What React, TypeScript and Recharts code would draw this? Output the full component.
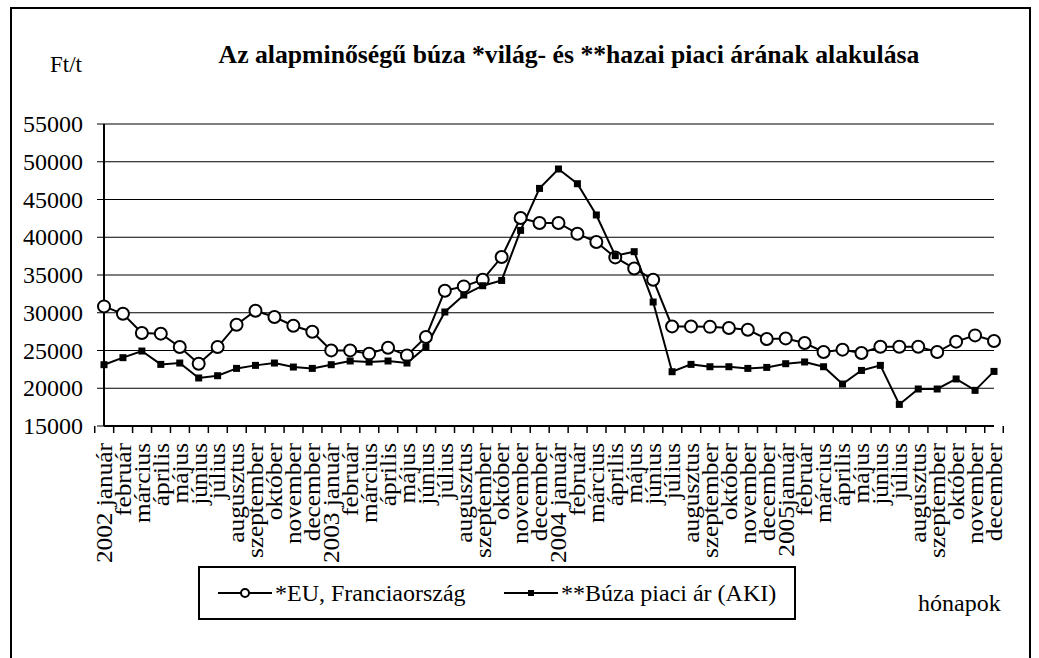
import { LineChart, Line, XAxis, YAxis, CartesianGrid, Legend } from 'recharts';

// hónapok 2002 január – 2005 december
const MONTHS = [
  '2002 január', 'február', 'március', 'április', 'május', 'június',
  'július', 'augusztus', 'szeptember', 'október', 'november', 'december',
  '2003 január', 'február', 'március', 'április', 'május', 'június',
  'július', 'augusztus', 'szeptember', 'október', 'november', 'december',
  '2004 január', 'február', 'március', 'április', 'május', 'június',
  'július', 'augusztus', 'szeptember', 'október', 'november', 'december',
  '2005január', 'február', 'március', 'április', 'május', 'június',
  'július', 'augusztus', 'szeptember', 'október', 'november', 'december',
];

// *EU, Franciaország (Ft/t)
const EU_PRICES = [
  30840, 29870, 27320, 27230, 25460, 23250, 25460, 28420, 30270, 29440, 28280, 27490,
  25010, 25010, 24580, 25370, 24350, 26790, 32920, 33490, 34380, 37380, 42550, 41890,
  41890, 40470, 39370, 37330, 35870, 34380, 28190, 28190, 28130, 27980, 27750, 26520,
  26600, 25990, 24800, 25110, 24670, 25500, 25500, 25500, 24800, 26170, 27000, 26260,
];

// **Búza piaci ár (AKI) (Ft/t)
const AKI_PRICES = [
  23120, 24050, 24930, 23160, 23340, 21360, 21660, 22630, 23030, 23340, 22810, 22630,
  23120, 23610, 23480, 23610, 23340, 25460, 30100, 32350, 33580, 34280, 40910, 46470,
  49040, 47090, 42950, 37560, 38090, 31420, 22190, 23160, 22850, 22850, 22630, 22760,
  23250, 23480, 22850, 20560, 22360, 23030, 17860, 19900, 19900, 21230, 19720, 22230,
];

const Y_TICKS = [15000, 20000, 25000, 30000, 35000, 40000, 45000, 50000, 55000];
const LEGEND_ORDER = ['eu', 'aki'];

const W = 1039;
const H = 658;
const PLOT_LEFT = 104;
const PLOT_RIGHT = 994;
const STEP = (PLOT_RIGHT - PLOT_LEFT) / MONTHS.length;
const FONT = '"Liberation Serif", "Times New Roman", serif';

const data = MONTHS.map((month, i) => ({
  month,
  eu: EU_PRICES[i],
  aki: AKI_PRICES[i],
}));

function MonthTick(props: any) {
  const { x, y, payload, index } = props;
  const left = x - STEP / 2;
  return (
    <g>
      <line x1={left} y1={y} x2={left} y2={y + 7} stroke="#000" strokeWidth={1.5} />
      {index === MONTHS.length - 1 && (
        <line x1={x + STEP / 2} y1={y} x2={x + STEP / 2} y2={y + 7} stroke="#000" strokeWidth={1.5} />
      )}
      <text
        transform={`translate(${x} ${y + 17}) rotate(-90) scale(1.1 1)`}
        textAnchor="end"
        dy="0.34em"
        fontFamily={FONT}
        fontSize={23}
        fill="#000"
      >
        {payload.value}
      </text>
    </g>
  );
}

function PriceTick(props: any) {
  const { x, y, payload } = props;
  return (
    <text x={x} y={y} dy="0.34em" textAnchor="end" fontFamily={FONT} fontSize={24} fill="#000">
      {payload.value}
    </text>
  );
}

function SquareDot(props: any) {
  const { cx, cy, index } = props;
  return <rect key={`sq-${index}`} x={cx - 3.5} y={cy - 3.5} width={7} height={7} fill="#000" />;
}

function LegendIcon({ kind }: { kind: string }) {
  return (
    <svg width={54} height={12} style={{ flex: 'none' }}>
      <line x1={0} y1={6} x2={54} y2={6} stroke="#000" strokeWidth={2} />
      {kind === 'eu' ? (
        <circle cx={27} cy={6} r={4} fill="#fff" stroke="#000" strokeWidth={2} />
      ) : (
        <rect x={24} y={3} width={6} height={6} fill="#000" />
      )}
    </svg>
  );
}

function LegendBox(props: any) {
  const items = [...(props.payload ?? [])].sort(
    (a: any, b: any) => LEGEND_ORDER.indexOf(a.dataKey) - LEGEND_ORDER.indexOf(b.dataKey),
  );
  const offsets = [18, 304];
  return (
    <div
      style={{
        position: 'relative',
        width: 598,
        height: 54,
        boxSizing: 'border-box',
        border: '2px solid #000',
        background: '#fff',
        fontFamily: FONT,
        fontSize: 24,
        color: '#000',
      }}
    >
      {items.map((item: any, i: number) => (
        <div
          key={item.value}
          style={{
            position: 'absolute',
            left: offsets[i],
            top: 0,
            height: 50,
            display: 'flex',
            alignItems: 'center',
            gap: 3,
            whiteSpace: 'nowrap',
          }}
        >
          <LegendIcon kind={item.dataKey} />
          <span>{item.value}</span>
        </div>
      ))}
    </div>
  );
}

export default function App() {
  return (
    <div style={{ position: 'fixed', left: 0, top: 0, width: W, height: H, overflow: 'hidden', background: '#fff' }}>
      <div
        style={{
          position: 'absolute',
          left: 10,
          top: 7,
          width: 1021,
          height: 720,
          boxSizing: 'border-box',
          border: '2px solid #000',
        }}
      />
      <LineChart
        width={W}
        height={H}
        data={data}
        margin={{ top: 124, right: 45, left: 14, bottom: 48 }}
        style={{ position: 'absolute', left: 0, top: 0 }}
      >
        <CartesianGrid horizontal vertical={false} stroke="#000" strokeWidth={1} />
        <XAxis
          dataKey="month"
          interval={0}
          height={130}
          tickSize={0}
          tickMargin={0}
          tickLine={false}
          axisLine={{ stroke: '#000', strokeWidth: 2 }}
          tick={<MonthTick />}
        />
        <XAxis
          xAxisId="top"
          dataKey="month"
          orientation="top"
          height={0}
          tick={false}
          tickLine={false}
          axisLine={{ stroke: '#000', strokeWidth: 2 }}
        />
        <YAxis
          domain={[15000, 55000]}
          ticks={Y_TICKS}
          interval={0}
          width={90}
          tickSize={7}
          tickMargin={14}
          tickLine={{ stroke: '#000', strokeWidth: 1 }}
          axisLine={{ stroke: '#000', strokeWidth: 2 }}
          tick={<PriceTick />}
        />
        <YAxis
          yAxisId="right"
          orientation="right"
          width={0}
          tick={false}
          tickLine={false}
          axisLine={{ stroke: '#000', strokeWidth: 2 }}
        />
        <Legend
          content={<LegendBox />}
          wrapperStyle={{ position: 'absolute', left: 198, top: 566, width: 598, height: 54 }}
        />
        <Line
          dataKey="eu"
          name="*EU, Franciaország"
          stroke="#000"
          strokeWidth={2}
          dot={{ r: 6, fill: '#fff', stroke: '#000', strokeWidth: 2 }}
          isAnimationActive={false}
        />
        <Line
          dataKey="aki"
          name="**Búza piaci ár (AKI)"
          stroke="#000"
          strokeWidth={2}
          dot={<SquareDot />}
          isAnimationActive={false}
        />
      </LineChart>
      <svg width={W} height={H} style={{ position: 'absolute', left: 0, top: 0, pointerEvents: 'none' }}>
        <text x={569} y={63} textAnchor="middle" fontFamily={FONT} fontSize={25.7} fontWeight="bold" fill="#000">
          Az alapminőségű búza *világ- és **hazai piaci árának alakulása
        </text>
        <text x={50} y={72} fontFamily={FONT} fontSize={23} fill="#000">
          Ft/t
        </text>
        <text x={918} y={611} fontFamily={FONT} fontSize={24} fill="#000">
          hónapok
        </text>
      </svg>
    </div>
  );
}
